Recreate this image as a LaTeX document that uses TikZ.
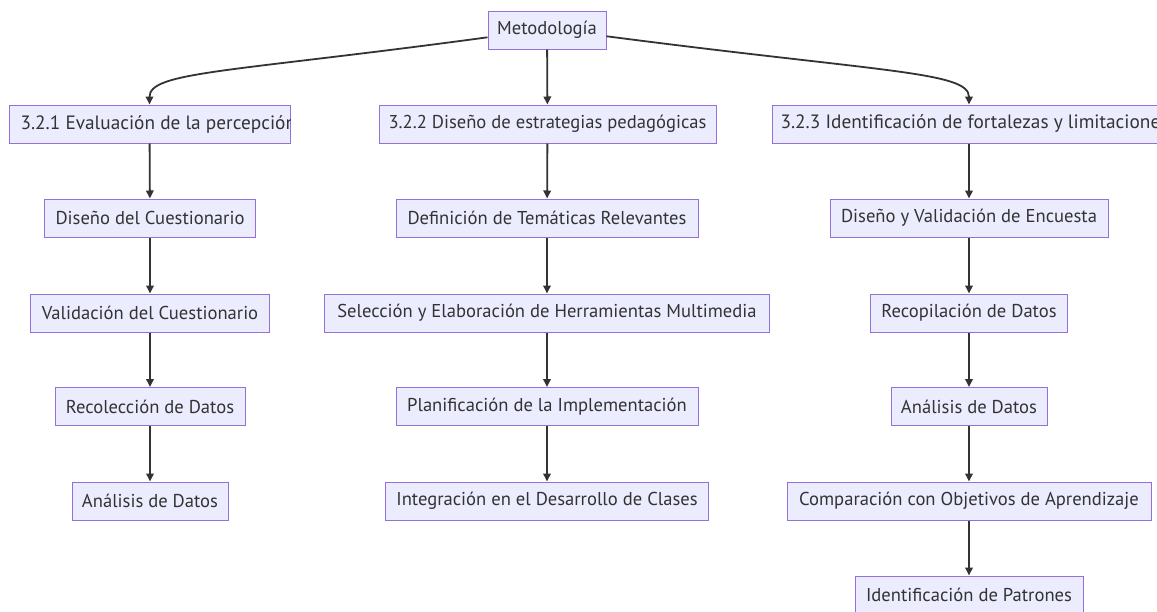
\documentclass[tikz,border=0pt]{standalone}
\usepackage{fontspec}
\setmainfont{PT Sans}
\usetikzlibrary{arrows.meta}
\definecolor{cajafondo}{HTML}{ECECFF}
\definecolor{cajaborde}{HTML}{9370DB}
\definecolor{linea}{HTML}{333333}
\tikzset{
  caja/.style={draw=cajaborde, fill=cajafondo, line width=1pt, minimum height=38pt, inner sep=0pt},
  texto/.style={text=linea, font=\fontsize{18.6}{22}\selectfont},
  ancho/.style={text=linea, font=\fontsize{19.3}{22}\selectfont},
  flecha/.style={draw=linea, line width=1.8pt, -{Triangle[length=8pt,width=7.5pt]}}
}
\begin{document}
\begin{tikzpicture}[x=1pt,y=-1pt]
    \fill[white] (0,0) rectangle (1157,611);
    \useasboundingbox (0,0) rectangle (1157,611);

    \node[caja, texto, minimum width=118pt] (met) at (547,30) {Metodología};

    % tres apartados
    \node[caja, minimum width=281pt] (eval) at (149.5,124) {};
    \begin{scope}
      \clip (eval.north west) rectangle (eval.south east);
      \node[ancho, anchor=west] (eval-t) at (17,124) {3.2.1 Evaluación de la percepción};
    \end{scope}
    \node[caja, texto, minimum width=337pt] (dise) at (547.5,124) {3.2.2 Diseño de estrategias pedagógicas};
    \node[caja, minimum width=394pt] (iden) at (969,124) {};
    \node[ancho, anchor=west] (iden-t) at (777,124) {3.2.3 Identificación de fortalezas y limitaciones};

    % columna 1
    \node[caja, texto, minimum width=211pt] (dcue) at (150,218) {Diseño del Cuestionario};
    \node[caja, texto, minimum width=239pt] (vcue) at (150,313) {Validación del Cuestionario};
    \node[caja, texto, minimum width=190pt] (rdat) at (150,406.5) {Recolección de Datos};
    \node[caja, texto, minimum width=156pt] (adat) at (150,501) {Análisis de Datos};

    % columna 2
    \node[caja, texto, minimum width=302pt] (dtem) at (547,218) {Definición de Temáticas Relevantes};
    \node[caja, texto, minimum width=445pt] (sher) at (547,313) {Selección y Elaboración de Herramientas Multimedia};
    \node[caja, texto, minimum width=302pt] (pimp) at (547,406.5) {Planificación de la Implementación};
    \node[caja, texto, minimum width=323pt] (icla) at (547,501) {Integración en el Desarrollo de Clases};

    % columna 3
    \node[caja, texto, minimum width=278pt] (denc) at (969,218) {Diseño y Validación de Encuesta};
    \node[caja, texto, minimum width=197pt] (rcop) at (969,313) {Recopilación de Datos};
    \node[caja, texto, minimum width=156pt] (anal) at (969,406.5) {Análisis de Datos};
    \node[caja, texto, minimum width=364pt] (cobj) at (969,501) {Comparación con Objetivos de Aprendizaje};
    \node[caja, texto, minimum width=228pt] (ipat) at (969,595) {Identificación de Patrones};

    \draw[flecha] (met.187) .. controls +(-258,35) and +(0,-33) .. (eval.north);
    \draw[flecha] (met) -- (dise);
    \draw[flecha] (met.-6) .. controls +(276,36) and +(0,-33) .. (iden.north);

    \draw[flecha] (eval) -- (dcue);
    \draw[flecha] (dcue) -- (vcue);
    \draw[flecha] (vcue) -- (rdat);
    \draw[flecha] (rdat) -- (adat);

    \draw[flecha] (dise) -- (dtem);
    \draw[flecha] (dtem) -- (sher);
    \draw[flecha] (sher) -- (pimp);
    \draw[flecha] (pimp) -- (icla);

    \draw[flecha] (iden) -- (denc);
    \draw[flecha] (denc) -- (rcop);
    \draw[flecha] (rcop) -- (anal);
    \draw[flecha] (anal) -- (cobj);
    \draw[flecha] (cobj) -- (ipat);
\end{tikzpicture}
\end{document}
